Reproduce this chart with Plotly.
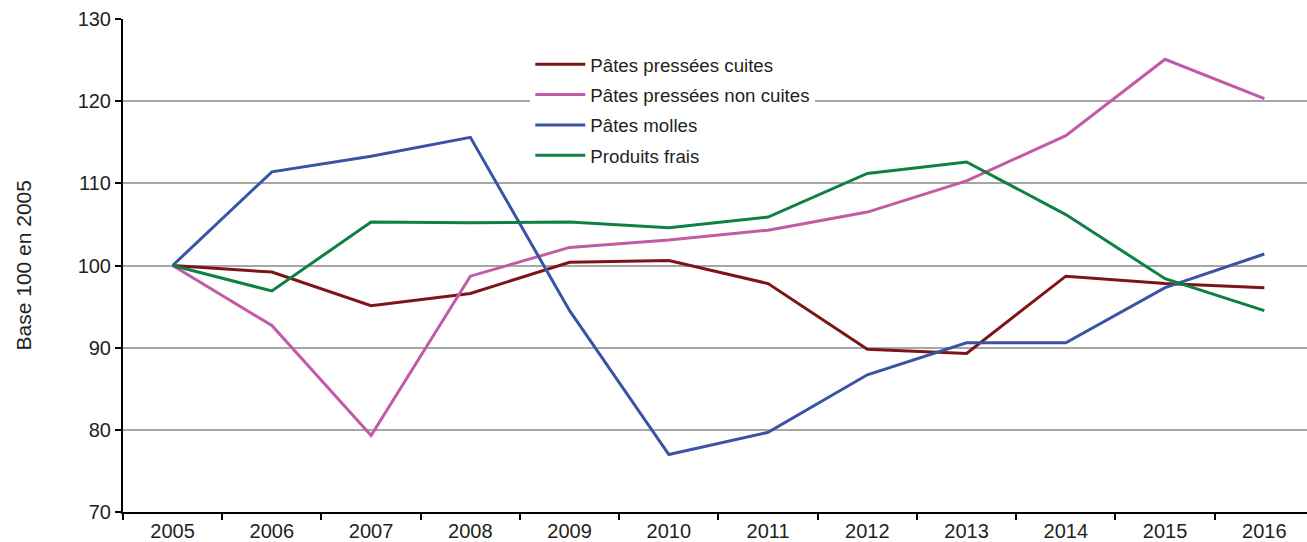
import plotly.graph_objects as go

years = ["2005", "2006", "2007", "2008", "2009", "2010", "2011", "2012", "2013", "2014", "2015", "2016"]
ppc = [100, 99.2, 95.1, 96.6, 100.4, 100.6, 97.8, 89.8, 89.3, 98.7, 97.8, 97.3]
ppnc = [100, 92.7, 79.3, 98.7, 102.2, 103.1, 104.3, 106.5, 110.3, 115.8, 125.1, 120.3]
molles = [100, 111.4, 113.3, 115.6, 94.5, 77.0, 79.7, 86.7, 90.6, 90.6, 97.3, 101.4]
frais = [100, 96.9, 105.3, 105.2, 105.3, 104.6, 105.9, 111.2, 112.6, 106.2, 98.4, 94.5]

series = [
    ("Pâtes pressées cuites", ppc, "#7d1518"),
    ("Pâtes pressées non cuites", ppnc, "#c25aa6"),
    ("Pâtes molles", molles, "#3a53a5"),
    ("Produits frais", frais, "#0e8043"),
]

fig = go.Figure()
for i, (name, vals, col) in enumerate(series):
    fig.add_trace(go.Scatter(x=years, y=vals, name=name, mode="lines",
                             line=dict(color=col, width=3),
                             legendgroup=str(i)))

fig.update_layout(
    width=1307, height=542,
    margin=dict(l=123, r=0, t=19, b=20),
    plot_bgcolor="white", paper_bgcolor="white",
    font=dict(family="Liberation Sans, Arial, sans-serif", color="#231f20"),
    showlegend=True,
    legend=dict(x=0.344, y=0.946, xanchor="left", yanchor="top",
                bgcolor="white", font=dict(size=18.7, color="#231f20"),
                traceorder="grouped", tracegroupgap=3, itemwidth=50),
    xaxis=dict(type="category", tickson="boundaries", ticks="outside",
               ticklen=6, tickwidth=1.5, tickcolor="black",
               showline=True, linecolor="black", linewidth=2,
               showgrid=False, tickfont=dict(size=20), range=[-0.5, 11.43]),
    yaxis=dict(range=[70, 130], dtick=10, ticks="outside", ticklen=6,
               tickwidth=1.5, tickcolor="black",
               showline=True, linecolor="black", linewidth=2,
               showgrid=True, gridcolor="#a6a6a6", gridwidth=1.5,
               zeroline=False, tickfont=dict(size=20)),
    annotations=[dict(text="Base 100 en 2005", textangle=-90, xref="paper", yref="paper",
                      x=-100/1184, y=0.5, xanchor="center", yanchor="middle",
                      showarrow=False, font=dict(size=21, color="#231f20"))],
)

fig.write_html("out.html", config={"displayModeBar": False},
               post_script="document.body.style.margin='0px';")
